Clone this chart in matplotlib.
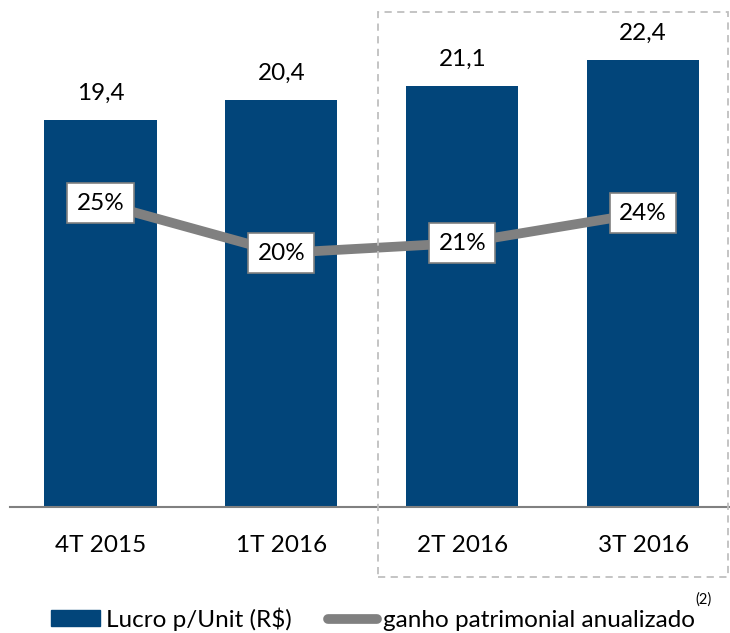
import numpy as np
import matplotlib.pyplot as plt
from matplotlib.patches import Rectangle, Patch
from matplotlib.lines import Line2D

plt.rcParams['font.family'] = ['Lato', 'DejaVu Sans']

categories = ['4T 2015', '1T 2016', '2T 2016', '3T 2016']
lucro = [19.4, 20.4, 21.1, 22.4]
lucro_labels = ['19,4', '20,4', '21,1', '22,4']
ganho = [25, 20, 21, 24]

blue = '#02457a'
gray = '#808080'

fig = plt.figure(figsize=(7.3, 6.33), dpi=100)
ax = fig.add_axes([10/730, 1-507/633, 720/730, 507/633])
x = np.arange(len(categories))
ax.bar(x, lucro, width=0.62, color=blue, zorder=2)
ax.set_xlim(-0.5, 3.48)
ax.set_ylim(0, 25.41)
for xi, v, lab in zip(x, lucro, lucro_labels):
    ax.text(xi, v + 1.35, lab, ha='center', va='center', fontsize=17.5)
for s in ['top', 'right', 'left']:
    ax.spines[s].set_visible(False)
ax.spines['bottom'].set_color(gray)
ax.spines['bottom'].set_linewidth(1.5)
ax.set_yticks([])
ax.set_xticks(x)
ax.set_xticklabels(categories, fontsize=17.5)
ax.tick_params(axis='x', length=0, pad=20)

ax2 = ax.twinx()
ax2.set_ylim(-5.4, 45.3)
ax2.axis('off')
ax2.plot(x, ganho, color=gray, lw=7, solid_capstyle='butt', zorder=3)
for xi, v in zip(x, ganho):
    ax2.text(xi, v, f'{v}%', ha='center', va='center', fontsize=17.5, zorder=4,
             bbox=dict(boxstyle='square,pad=0.38', fc='white', ec=gray, lw=1.2))

# dashed highlight box around 2016 2T/3T
fig.patches.append(Rectangle((378/730, 1-577/633), 350/730, 565/633,
                             transform=fig.transFigure, fill=False,
                             ec='#bfbfbf', ls=(0, (4, 3)), lw=1.3))

handles = [Patch(color=blue), Line2D([0], [0], color=gray, lw=7, solid_capstyle='round')]
fig.legend(handles, ['Lucro p/Unit (R$)', 'ganho patrimonial anualizado'],
           loc='center', bbox_to_anchor=(373/730, 1-619/633), ncol=2, frameon=False,
           fontsize=17.5, handlelength=2.0, handleheight=0.6, handletextpad=0.25,
           columnspacing=1.5, borderpad=0)
fig.text(704/730, 1-600/633, '(2)', fontsize=10.5, ha='center', va='center')

fig.savefig('out.png', dpi=100)
